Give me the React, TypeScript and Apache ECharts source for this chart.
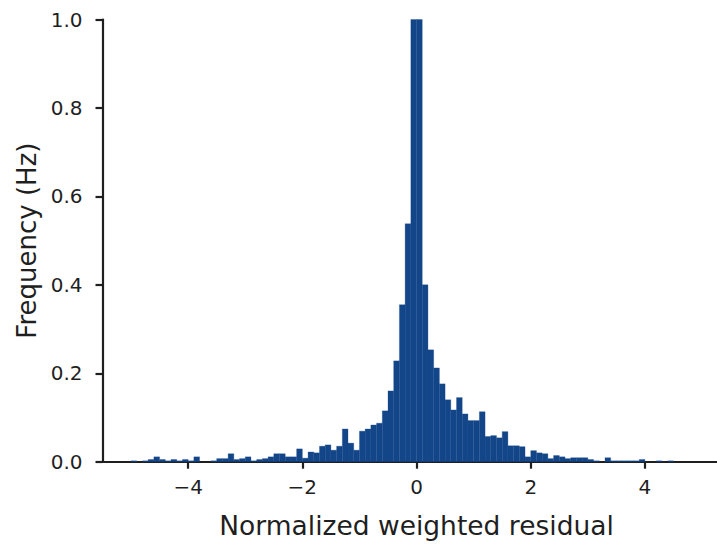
import React, { useEffect, useRef } from "react";
import * as echarts from "echarts";

// Histogram: bins of width 0.1 starting at -5
const binStart = -5;
const binWidth = 0.1;
const frequencies: number[] = [
  0.002, 0, 0.002, 0.005, 0.011, 0.005, 0.002, 0.005, 0.002, 0.005,
  0.002, 0.011, 0, 0, 0.002, 0.007, 0.007, 0.018, 0.005, 0.007,
  0.011, 0.002, 0.005, 0.007, 0.011, 0.018, 0.018, 0.011, 0.011, 0.029,
  0.008, 0.022, 0.02, 0.035, 0.038, 0.026, 0.035, 0.074, 0.042, 0.026,
  0.069, 0.074, 0.083, 0.087, 0.115, 0.16, 0.228, 0.355, 0.538, 1.0,
  1.0, 0.4, 0.253, 0.212, 0.176, 0.14, 0.117, 0.145, 0.108, 0.093,
  0.093, 0.113, 0.057, 0.059, 0.054, 0.068, 0.036, 0.036, 0.034, 0.011,
  0.025, 0.02, 0.018, 0.007, 0.014, 0.011, 0.007, 0.009, 0.009, 0.009,
  0.005, 0.002, 0, 0.009, 0.002, 0.002, 0.002, 0.002, 0.002, 0.005,
  0, 0, 0.002, 0, 0.002, 0, 0, 0, 0, 0,
];
const xTicks: number[] = [-4, -2, 0, 2, 4];
const yTicks: number[] = [0, 0.2, 0.4, 0.6, 0.8, 1.0];
const xLabel = "Normalized weighted residual";
const yLabel = "Frequency (Hz)";

const barColor = "#134589";
const ink = "#1f1f1f";
const font = "DejaVu Sans";

export default function App() {
  const ref = useRef<HTMLDivElement>(null);
  useEffect(() => {
    document.body.style.margin = "0";
    document.body.style.overflow = "hidden";
    if (!ref.current) return;
    const chart = echarts.init(ref.current, null, { renderer: "svg" });
    const data = frequencies.map((f, i) => [binStart + i * binWidth, f]);
    chart.setOption({
      animation: false,
      backgroundColor: "#ffffff",
      grid: { left: 102.5, top: 19.5, right: 0.4, bottom: 82.3 },
      xAxis: {
        type: "value",
        min: -5.5,
        max: 5.5,
        name: xLabel,
        nameLocation: "middle",
        nameGap: 50,
        nameTextStyle: { fontFamily: font, fontSize: 26.5, color: ink },
        splitLine: { show: false },
        axisLine: { show: true, onZero: false, lineStyle: { color: ink, width: 2.2 } },
        axisTick: {
          show: true,
          length: 7,
          customValues: xTicks,
          lineStyle: { color: ink, width: 2.2 },
        },
        axisLabel: {
          customValues: xTicks,
          margin: 15,
          fontFamily: font,
          fontSize: 20,
          color: ink,
          formatter: (v: number) => (v < 0 ? "\u2212" + Math.abs(v) : String(v)),
        },
      },
      yAxis: {
        type: "value",
        min: 0,
        max: 1,
        name: yLabel,
        nameLocation: "middle",
        nameGap: 63,
        nameTextStyle: { fontFamily: font, fontSize: 26, color: ink },
        splitLine: { show: false },
        axisLine: { show: true, onZero: false, lineStyle: { color: ink, width: 2.2 } },
        axisTick: {
          show: true,
          length: 7,
          customValues: yTicks,
          lineStyle: { color: ink, width: 2.2 },
        },
        axisLabel: {
          customValues: yTicks,
          margin: 20,
          fontFamily: font,
          fontSize: 20,
          color: ink,
          formatter: (v: number) => v.toFixed(1),
        },
      },
      series: [
        {
          type: "custom",
          data,
          clip: false,
          renderItem: (params: any, api: any) => {
            const x0 = api.value(0);
            const h = api.value(1);
            if (!h) return null;
            const p0 = api.coord([x0, 0]);
            const p1 = api.coord([x0 + binWidth, h]);
            return {
              type: "rect",
              shape: { x: p0[0], y: p1[1], width: p1[0] - p0[0], height: p0[1] - p1[1] },
              style: { fill: barColor, stroke: barColor, lineWidth: 0.3 },
            };
          },
        },
      ],
    });
    return () => chart.dispose();
  }, []);
  return (
    <div
      ref={ref}
      style={{ position: "fixed", left: 0, top: 0, width: 731, height: 544 }}
    />
  );
}
